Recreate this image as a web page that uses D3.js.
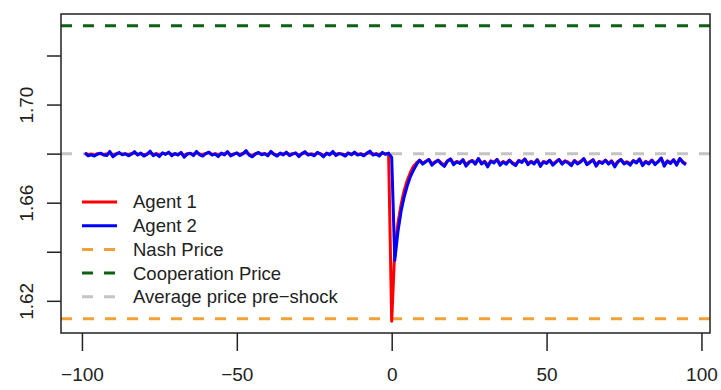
<!DOCTYPE html>
<html>
<head>
<meta charset="utf-8">
<script src="https://cdn.jsdelivr.net/npm/d3@7"></script>
<style>
  body { margin: 0; background: #fff; }
  svg { display: block; font-family: "Liberation Sans", Arial, sans-serif; }
</style>
</head>
<body>
<svg id="chart" width="721" height="390"></svg>
<script>
// periods run from -99 (pre-shock) to 95, shock hits at t = 0
const firstPeriod = -99
const lastPeriod = 95

// Agent 1, t = -99 .. -1
const agent1Pre = [
  1.6801,1.6796,1.6798,1.6795,1.6800,1.6800,1.6797,1.6797,1.6804,1.6793,
  1.6799,1.6802,1.6798,1.6799,1.6796,1.6800,1.6803,1.6797,1.6800,1.6795,
  1.6799,1.6805,1.6796,1.6800,1.6794,1.6801,1.6799,1.6803,1.6796,1.6799,
  1.6797,1.6802,1.6793,1.6800,1.6800,1.6797,1.6804,1.6798,1.6795,1.6801,
  1.6803,1.6797,1.6800,1.6794,1.6800,1.6798,1.6804,1.6796,1.6799,1.6801,
  1.6796,1.6801,1.6806,1.6797,1.6793,1.6800,1.6802,1.6798,1.6799,1.6796,
  1.6804,1.6799,1.6795,1.6800,1.6798,1.6803,1.6796,1.6800,1.6801,1.6794,
  1.6799,1.6804,1.6797,1.6799,1.6796,1.6802,1.6800,1.6793,1.6800,1.6798,
  1.6804,1.6797,1.6801,1.6799,1.6795,1.6801,1.6798,1.6803,1.6797,1.6800,
  1.6796,1.6800,1.6805,1.6797,1.6800,1.6795,1.6802,1.6799,1.6800
]
// Agent 1, t = 0 .. 8
const agent1Shock = [1.6117, 1.6410, 1.6515, 1.6590, 1.6648, 1.6690, 1.6722, 1.6748, 1.6762]
// Agent 1, t = 9 .. 95
const agent1Post = [
  1.6774,1.6761,1.6769,1.6776,1.6758,1.6767,1.6774,1.6762,1.6754,1.6771,
  1.6778,1.6759,1.6768,1.6763,1.6775,1.6755,1.6767,1.6772,1.6761,1.6779,
  1.6762,1.6769,1.6752,1.6771,1.6765,1.6776,1.6758,1.6768,1.6761,1.6774,
  1.6763,1.6756,1.6772,1.6767,1.6778,1.6759,1.6769,1.6762,1.6775,1.6754,
  1.6768,1.6763,1.6774,1.6758,1.6767,1.6776,1.6761,1.6771,1.6765,1.6756,
  1.6772,1.6762,1.6768,1.6779,1.6759,1.6767,1.6775,1.6755,1.6769,1.6763,
  1.6774,1.6761,1.6771,1.6752,1.6768,1.6776,1.6762,1.6767,1.6758,1.6772,
  1.6765,1.6778,1.6756,1.6769,1.6762,1.6774,1.6759,1.6768,1.6781,1.6755,
  1.6771,1.6763,1.6775,1.6758,1.6779,1.6767,1.6759
]

// Agent 2, t = -99 .. -1
const agent2Pre = [
  1.6803,1.6791,1.6795,1.6790,1.6798,1.6802,1.6794,1.6792,1.6809,1.6787,
  1.6797,1.6805,1.6795,1.6800,1.6791,1.6798,1.6808,1.6794,1.6802,1.6790,
  1.6797,1.6810,1.6792,1.6798,1.6788,1.6803,1.6797,1.6806,1.6791,1.6800,
  1.6794,1.6805,1.6785,1.6798,1.6802,1.6792,1.6809,1.6795,1.6790,1.6800,
  1.6806,1.6794,1.6798,1.6788,1.6802,1.6795,1.6808,1.6791,1.6797,1.6803,
  1.6792,1.6800,1.6812,1.6794,1.6787,1.6798,1.6805,1.6795,1.6800,1.6791,
  1.6809,1.6797,1.6790,1.6802,1.6795,1.6806,1.6792,1.6798,1.6803,1.6788,
  1.6800,1.6808,1.6794,1.6797,1.6791,1.6805,1.6798,1.6787,1.6802,1.6795,
  1.6809,1.6792,1.6800,1.6797,1.6790,1.6803,1.6795,1.6806,1.6794,1.6798,
  1.6791,1.6802,1.6810,1.6794,1.6798,1.6790,1.6805,1.6797,1.6802
]
// Agent 2, t = 0 .. 8
const agent2Shock = [1.6785, 1.6365, 1.6480, 1.6563, 1.6622, 1.6668, 1.6705, 1.6732, 1.6755]
// Agent 2, t = 9 .. 95
const agent2Post = [
  1.6773,1.6757,1.6767,1.6776,1.6753,1.6764,1.6773,1.6758,1.6748,1.6769,
  1.6778,1.6755,1.6766,1.6760,1.6775,1.6749,1.6764,1.6771,1.6757,1.6780,
  1.6758,1.6767,1.6746,1.6769,1.6762,1.6776,1.6753,1.6766,1.6757,1.6773,
  1.6760,1.6751,1.6771,1.6764,1.6778,1.6755,1.6767,1.6758,1.6775,1.6748,
  1.6766,1.6760,1.6773,1.6753,1.6764,1.6776,1.6757,1.6769,1.6762,1.6751,
  1.6771,1.6758,1.6766,1.6780,1.6755,1.6764,1.6775,1.6749,1.6767,1.6760,
  1.6773,1.6757,1.6769,1.6746,1.6766,1.6776,1.6758,1.6764,1.6753,1.6771,
  1.6762,1.6778,1.6751,1.6767,1.6758,1.6773,1.6755,1.6766,1.6782,1.6749,
  1.6769,1.6760,1.6775,1.6753,1.6780,1.6764,1.6755
]

// reference prices (horizontal lines)
const nashPrice = 1.6127
const coopPrice = 1.7321
const avgPreShock = 1.6800

const xTicks = [-100, -50, 0, 50, 100]
const yTicks = [1.62, 1.64, 1.66, 1.68, 1.70, 1.72]
const yTickLabels = ["1.62", "", "1.66", "", "1.70", ""]

const legendLabels = ["Agent 1", "Agent 2", "Nash Price", "Cooperation Price", "Average price pre\u2212shock"]

const periods = d3.range(firstPeriod, lastPeriod + 1)
const agent1 = agent1Pre.concat(agent1Shock, agent1Post)
const agent2 = agent2Pre.concat(agent2Shock, agent2Post)

const width = 721
const height = 390
const margin = { top: 14, right: 11, bottom: 57, left: 61 }

const svg = d3.select("#chart")

// R-style axis limits: data range padded by 4% each side
let xPad = (lastPeriod - firstPeriod) * 0.04
let x = d3.scaleLinear()
  .domain([firstPeriod - xPad, lastPeriod + xPad])
  .range([margin.left, width - margin.right])

let yMin = d3.min(agent1.concat(agent2, [nashPrice, coopPrice]))
let yMax = d3.max(agent1.concat(agent2, [nashPrice, coopPrice]))
let yPad = (yMax - yMin) * 0.04
let y = d3.scaleLinear()
  .domain([yMin - yPad, yMax + yPad])
  .range([height - margin.bottom, margin.top])

svg.append("clipPath").attr("id", "plot-area")
  .append("rect")
  .attr("x", margin.left).attr("y", margin.top)
  .attr("width", width - margin.left - margin.right)
  .attr("height", height - margin.top - margin.bottom)

const plot = svg.append("g").attr("clip-path", "url(#plot-area)")

// horizontal reference lines
const hlines = [
  { v: nashPrice, color: "#F0A238" },
  { v: coopPrice, color: "#0B6212" },
  { v: avgPreShock, color: "#C4C4C4" }
]
plot.selectAll(".hline")
  .data(hlines)
  .join("line")
  .attr("class", "hline")
  .attr("x1", margin.left)
  .attr("x2", width - margin.right)
  .attr("y1", d => y(d.v))
  .attr("y2", d => y(d.v))
  .attr("stroke", d => d.color)
  .attr("stroke-width", 3)
  .attr("stroke-dasharray", "11,11")

let line = d3.line()
  .x((d, i) => x(periods[i]))
  .y(d => y(d))

plot.append("path")
  .datum(agent1)
  .attr("d", line)
  .attr("fill", "none")
  .attr("stroke", "#FF0000")
  .attr("stroke-width", 3)
  .attr("stroke-linejoin", "round")

plot.append("path")
  .datum(agent2)
  .attr("d", line)
  .attr("fill", "none")
  .attr("stroke", "#0000FF")
  .attr("stroke-width", 3)
  .attr("stroke-linejoin", "round")

// box round the plot
svg.append("rect")
  .attr("x", margin.left).attr("y", margin.top)
  .attr("width", width - margin.left - margin.right)
  .attr("height", height - margin.top - margin.bottom)
  .attr("fill", "none")
  .attr("stroke", "#222")
  .attr("stroke-width", 1.5)

// axes
let xAxis = svg.append("g")
  .attr("transform", `translate(0,${height - margin.bottom})`)
  .call(d3.axisBottom(x).tickValues(xTicks).tickFormat(d => d3.format("d")(d).replace("-", "\u2212")).tickSize(18).tickPadding(17))
xAxis.select(".domain").remove()
xAxis.selectAll("line").attr("stroke", "#222").attr("stroke-width", 1.5)
xAxis.selectAll("text").attr("font-size", 19).attr("fill", "#222").attr("font-family", "Liberation Sans, Arial, sans-serif")

let yAxis = svg.append("g")
  .attr("transform", `translate(${margin.left},0)`)
  .call(d3.axisLeft(y).tickValues(yTicks).tickFormat((d, i) => yTickLabels[i]).tickSize(14))
yAxis.select(".domain").remove()
yAxis.selectAll("line").attr("stroke", "#222").attr("stroke-width", 1.5)
yAxis.selectAll("text")
  .attr("font-size", 19).attr("fill", "#222")
  .attr("font-family", "Liberation Sans, Arial, sans-serif")
  .attr("x", null).attr("dy", null)
  .attr("text-anchor", "middle")
  .attr("transform", "translate(-28,0) rotate(-90)")

// legend
const legendStyle = [
  { color: "#FF0000", dash: null, w: 3 },
  { color: "#0000FF", dash: null, w: 3 },
  { color: "#F0A238", dash: "11,11", w: 3 },
  { color: "#0B6212", dash: "11,11", w: 3 },
  { color: "#C4C4C4", dash: "11,11", w: 3 }
]
let legend = svg.append("g")
  .selectAll("g")
  .data(legendLabels)
  .join("g")
  .attr("transform", (d, i) => `translate(82,${202 + i * 23.7})`)

legend.append("line")
  .attr("x1", 0).attr("x2", 35)
  .attr("stroke", (d, i) => legendStyle[i].color)
  .attr("stroke-width", (d, i) => legendStyle[i].w)
  .attr("stroke-dasharray", (d, i) => legendStyle[i].dash)

legend.append("text")
  .attr("x", 51)
  .attr("dy", "0.35em")
  .attr("font-size", 18.5)
  .attr("fill", "#222")
  .text(d => d)
</script>
</body>
</html>
